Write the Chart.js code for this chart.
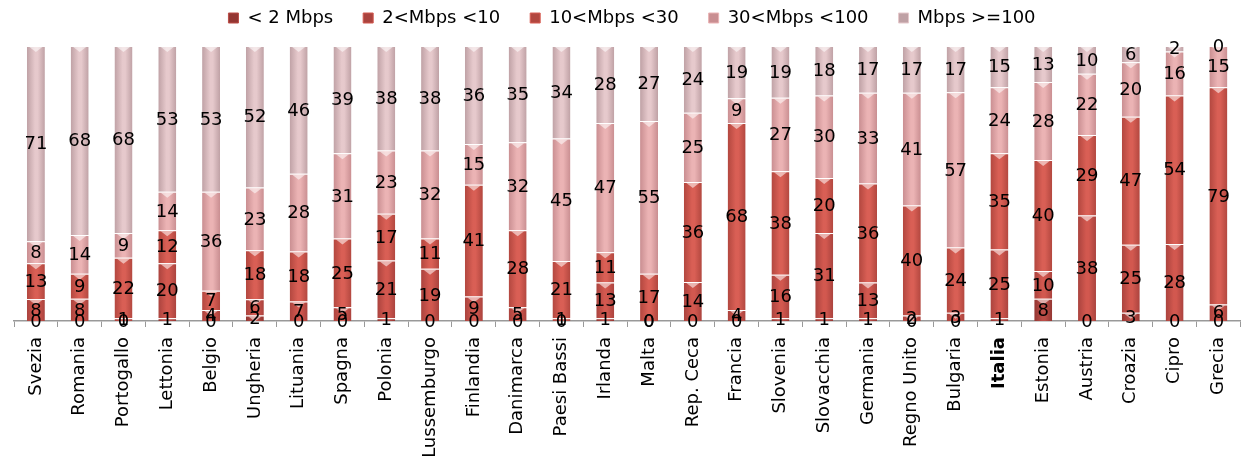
<!DOCTYPE html>
<html>
<head>
<meta charset="utf-8">
<script src="https://cdn.jsdelivr.net/npm/chart.js@4/dist/chart.umd.min.js"></script>
<style>
  html, body { margin: 0; padding: 0; background: #fff; }
  #wrap { width: 1250px; height: 462px; }
</style>
</head>
<body>
<div id="wrap"><canvas id="barChart" width="1250" height="462"></canvas></div>
<script>
var countries = ['Svezia', 'Romania', 'Portogallo', 'Lettonia', 'Belgio', 'Ungheria', 'Lituania', 'Spagna',
  'Polonia', 'Lussemburgo', 'Finlandia', 'Danimarca', 'Paesi Bassi', 'Irlanda', 'Malta', 'Rep. Ceca',
  'Francia', 'Slovenia', 'Slovacchia', 'Germania', 'Regno Unito', 'Bulgaria', 'Italia', 'Estonia',
  'Austria', 'Croazia', 'Cipro', 'Grecia'];

var seriesNames = ['< 2 Mbps', '2<Mbps <10', '10<Mbps <30', '30<Mbps <100', 'Mbps >=100'];

var under2 = [0, 0, 0, 1, 0, 2, 0, 0, 1, 0, 0, 0, 0, 1, 0, 0, 0, 1, 1, 1, 0, 0, 1, 8, 0, 3, 0, 0];
var from2to10 = [8, 8, 1, 20, 4, 6, 7, 5, 21, 19, 9, 5, 1, 13, 0, 14, 4, 16, 31, 13, 2, 3, 25, 10, 38, 25, 28, 6];
var from10to30 = [13, 9, 22, 12, 7, 18, 18, 25, 17, 11, 41, 28, 21, 11, 17, 36, 68, 38, 20, 36, 40, 24, 35, 40, 29, 47, 54, 79];
var from30to100 = [8, 14, 9, 14, 36, 23, 28, 31, 23, 32, 15, 32, 45, 47, 55, 25, 9, 27, 30, 33, 41, 57, 24, 28, 22, 20, 16, 15];
var over100 = [71, 68, 68, 53, 53, 52, 46, 39, 38, 38, 36, 35, 34, 28, 27, 24, 19, 19, 18, 17, 17, 17, 15, 13, 10, 6, 2, 0];

// center / edge colours for each series (cylinder-like shading)
var shades = [
  ['#bc4d47', '#933632'],
  ['#d2584f', '#aa433e'],
  ['#d95f55', '#b2473f'],
  ['#ebb3b4', '#c98e91'],
  ['#e6c9cc', '#bfa1a5']
];

var allSeries = [under2, from2to10, from10to30, from30to100, over100];

// 100% stacked like the original: each bar scaled to its own total
var totals = countries.map(function(c, i) {
  return allSeries.reduce(function(s, arr) { return s + arr[i]; }, 0);
});

function shadedFill(k) {
  return function(context) {
    var chart = context.chart;
    var xs = chart.scales && chart.scales.x;
    if (!xs || !chart.chartArea || context.dataIndex === undefined) {
      return shades[k][0];
    }
    var cx = xs.getPixelForValue(context.dataIndex);
    var half = xs.width / countries.length * 0.41 / 2;
    if (!isFinite(cx) || !isFinite(half) || half <= 0) {
      return shades[k][0];
    }
    var g = chart.ctx.createLinearGradient(cx - half, 0, cx + half, 0);
    g.addColorStop(0, shades[k][1]);
    g.addColorStop(0.45, shades[k][0]);
    g.addColorStop(0.6, shades[k][0]);
    g.addColorStop(1, shades[k][1]);
    return g;
  };
}

var datasets = allSeries.map(function(arr, k) {
  return {
    label: seriesNames[k],
    rawValues: arr,
    data: arr.map(function(v, i) { return v / totals[i] * 100; }),
    backgroundColor: shadedFill(k),
    borderColor: 'rgba(255,255,255,0.35)',
    borderWidth: { top: 1 },
    borderSkipped: false,
    categoryPercentage: 1,
    barPercentage: 0.41
  };
});

// little bevel notch on top of every segment, then the values
var valueLabels = {
  id: 'valueLabels',
  afterDatasetsDraw: function(chart) {
    var ctx = chart.ctx;
    ctx.save();
    chart.data.datasets.forEach(function(ds, k) {
      chart.getDatasetMeta(k).data.forEach(function(bar) {
        if (bar.base - bar.y < 4) return;
        var w = bar.width * 0.36;
        ctx.fillStyle = 'rgba(255,255,255,0.55)';
        ctx.beginPath();
        ctx.moveTo(bar.x - w, bar.y + 1);
        ctx.lineTo(bar.x + w, bar.y + 1);
        ctx.lineTo(bar.x, bar.y + 6);
        ctx.closePath();
        ctx.fill();
      });
    });
    ctx.font = '18px "DejaVu Sans"';
    ctx.fillStyle = '#000';
    ctx.textAlign = 'center';
    ctx.textBaseline = 'middle';
    chart.data.datasets.forEach(function(ds, k) {
      var meta = chart.getDatasetMeta(k);
      meta.data.forEach(function(bar, i) {
        var y = (bar.y + bar.base) / 2;
        ctx.fillText(String(ds.rawValues[i]), bar.x, y + 1);
      });
    });
    ctx.restore();
  }
};

// extra room under the legend
var legendGap = {
  id: 'legendGap',
  beforeInit: function(chart) {
    var fit = chart.legend.fit;
    chart.legend.fit = function() {
      fit.call(this);
      this.height += 9;
    };
  }
};

var barChart = new Chart(document.getElementById('barChart').getContext('2d'), {
  type: 'bar',
  data: {
    labels: countries,
    datasets: datasets
  },
  options: {
    responsive: false,
    animation: false,
    layout: { padding: { left: 14, right: 0, top: -21, bottom: 0 } },
    plugins: {
      tooltip: { enabled: false },
      legend: {
        position: 'top',
        labels: {
          boxWidth: 10,
          boxHeight: 10,
          padding: 30,
          color: '#000',
          font: { family: '"DejaVu Sans"', size: 18 },
          generateLabels: function(chart) {
            return chart.data.datasets.map(function(ds, k) {
              return {
                text: ds.label,
                fillStyle: shades[k][1],
                strokeStyle: shades[k][0],
                lineWidth: 1,
                datasetIndex: k
              };
            });
          }
        }
      }
    },
    scales: {
      x: {
        stacked: true,
        offset: true,
        afterFit: function(scale) { scale.height = 141; },
        grid: {
          offset: true,
          drawOnChartArea: false,
          tickLength: 6,
          color: '#999'
        },
        border: { color: '#999', width: 1.5 },
        ticks: {
          minRotation: 90,
          maxRotation: 90,
          autoSkip: false,
          padding: 10,
          color: '#000',
          font: function(c) {
            var bold = c.tick && c.tick.label === 'Italia';
            return { family: '"DejaVu Sans"', size: 18, weight: bold ? 'bold' : 'normal' };
          }
        }
      },
      y: {
        stacked: true,
        display: false,
        min: 0,
        max: 100
      }
    }
  },
  plugins: [valueLabels, legendGap]
});
</script>
</body>
</html>
